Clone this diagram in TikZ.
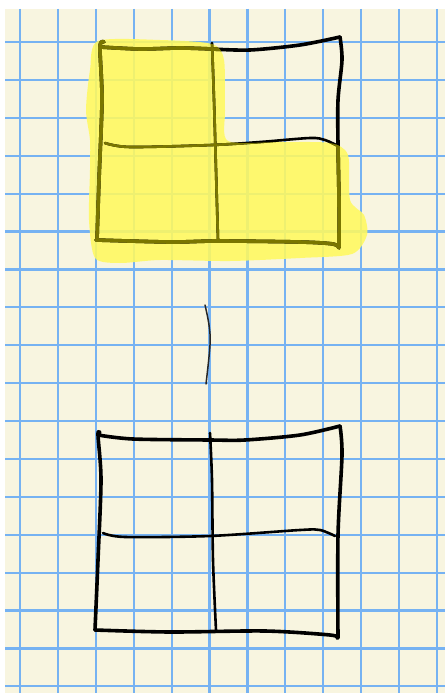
\documentclass[tikz,border=0pt]{standalone}
\begin{document}
\begin{tikzpicture}[x=1pt,y=-1pt,
  gridline/.style={draw={rgb,255:red,118;green,178;blue,242},line width=2.2pt},
  ink/.style={draw=black,line width=3.6pt,line cap=round,line join=round},
  thinink/.style={draw=black,line width=2.6pt,line cap=round,line join=round},
  hair/.style={draw=black!85,line width=1.5pt,line cap=round}]
\definecolor{cream}{RGB}{248,245,224}
\definecolor{hilite}{RGB}{255,249,95}
\definecolor{olive}{RGB}{122,118,0}
\def\blobpath{plot[smooth cycle,tension=0.45] coordinates {
   (98,41) (160,40) (212,44) (224,60) (225,110) (228,141) (280,142) (330,143)
   (348,155) (350,200) (364,215) (367,235) (352,254) (300,258) (230,261)
   (160,260) (120,263) (95,258) (89,220) (90,170) (90,140) (86,110) (90,70)}}
\def\topfigure#1{%
\draw[ink,#1] plot[smooth,tension=0.5] coordinates {(104,42) (100,47) (102,100) (99,180) (97,240)};
\draw[ink,#1] plot[smooth,tension=0.5] coordinates {(100,47) (140,49) (180,48) (212,49)};
\draw[ink,#1] plot[smooth,tension=0.5] coordinates {(212,49) (250,50) (300,45) (340,37)};
\draw[ink,#1] plot[smooth,tension=0.5] coordinates {(340,37) (342,60) (338,100) (338,145) (339,200) (339,247)};
\draw[ink,#1] plot[smooth,tension=0.5] coordinates {(96,240) (170,242) (218,241) (300,242) (333,244) (339,248)};
\draw[thinink,#1] plot[smooth,tension=0.5] coordinates {(212,43) (214,100) (216,170) (218,240)};
\draw[thinink,#1] plot[smooth,tension=0.5] coordinates {(105,143) (130,147) (212,145) (260,142) (310,138) (325,140) (338,146)};}
\useasboundingbox (0,0) rectangle (445,693);
\fill[white] (0,0) rectangle (445,693);
\fill[cream] (5,9) rectangle (445,693);
% grid
\foreach \k in {0,...,11} \draw[gridline] ({20+37.9*\k},9) -- ({20+37.9*\k},693);
\foreach \k in {0,...,17} \draw[gridline] (5,{42+37.9*\k}) -- (445,{42+37.9*\k});
% ---------- top figure with highlight ----------
\fill[hilite,opacity=0.88] \blobpath;
\topfigure{}
\begin{scope}
  \clip \blobpath;
  \topfigure{draw=olive}
\end{scope}
% ---------- connector stroke ----------
\draw[hair] plot[smooth,tension=0.6] coordinates {(205,305) (209,325) (210,345) (206,384)};
% ---------- bottom figure ----------
\draw[ink] plot[smooth,tension=0.5] coordinates {(100,433) (98,435) (101,480) (98,560) (95,630)};
\draw[ink] plot[smooth,tension=0.5] coordinates {(98,435) (133,439) (210,440) (245,440) (300,435) (340,426)};
\draw[ink] plot[smooth,tension=0.5] coordinates {(340,426) (342,455) (338,535) (338,638)};
\draw[ink] plot[smooth,tension=0.5] coordinates {(95,630) (170,632) (265,631) (330,635) (337,638)};
\draw[thinink] plot[smooth,tension=0.5] coordinates {(210,433) (212,480) (213,560) (216,630)};
\draw[thinink] plot[smooth,tension=0.5] coordinates {(103,533) (125,537) (210,536) (300,530) (320,530) (335,536)};
\end{tikzpicture}
\end{document}
